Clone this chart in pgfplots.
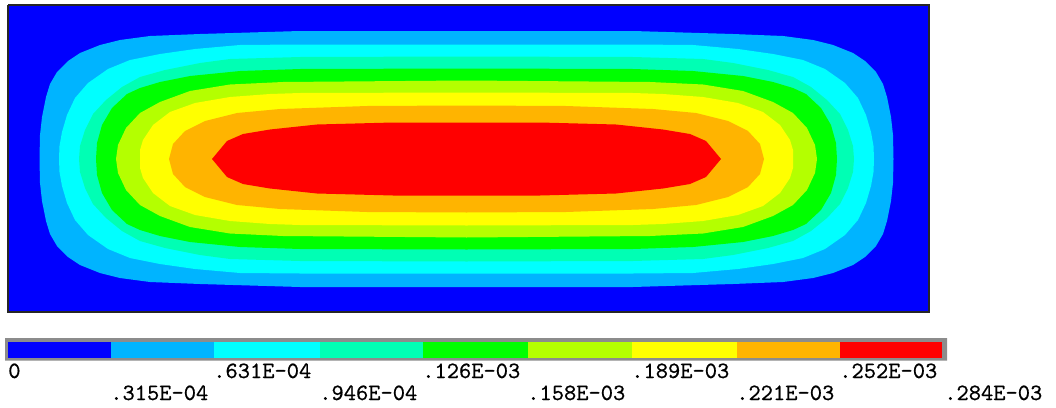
\documentclass[border=0pt]{standalone}
\usepackage{fontspec}
\usepackage{pgfplots}
\pgfplotsset{compat=1.18}
\newfontfamily\labfont{lmmono10-regular.otf}[FakeBold=0.6]
\definecolor{cB}{RGB}{0,0,255}
\definecolor{cLB}{RGB}{0,180,255}
\definecolor{cC}{RGB}{0,255,255}
\definecolor{cCG}{RGB}{0,255,180}
\definecolor{cG}{RGB}{0,255,0}
\definecolor{cYG}{RGB}{180,255,0}
\definecolor{cY}{RGB}{255,255,0}
\definecolor{cO}{RGB}{255,180,0}
\definecolor{cR}{RGB}{255,0,0}
\tikzset{lab/.style={anchor=base west, inner sep=0pt, font=\labfont\fontsize{17.5pt}{17.5pt}\selectfont}}
\begin{document}
\begin{tikzpicture}
\begin{axis}[scale only axis, width=792pt, height=305.25pt,
  xmin=0, xmax=1056, ymin=0, ymax=407, y dir=reverse,
  axis line style={draw=none}, xtick=\empty, ytick=\empty, clip=false]
% frame
\addplot[fill=cB, draw=black!85, line width=1.1pt] coordinates {(8,5) (929,5) (929,312) (8,312) (8,5)};
% light blue
\addplot[fill=cLB, draw=none] coordinates {(466.5,31) (300,31) (250,32.5) (200,34) (150,36) (120,40) (100,45) (80,53) (68,61) (57,72) (50,84) (46,97) (42,117) (40,135) (39.5,159)
(40,183) (42,201) (46,221) (50,234) (57,246) (68,257) (80,265) (100,273) (120,278) (150,282) (200,284) (250,285.5) (300,287) (466.5,287)
(633,287) (683,285.5) (733,284) (783,282) (813,278) (833,273) (853,265) (865,257) (876,246) (883,234) (887,221) (891,201) (893,183) (893.5,159)
(893,135) (891,117) (887,97) (883,84) (876,72) (865,61) (853,53) (833,45) (813,40) (783,36) (733,34) (683,32.5) (633,31) (466.5,31)};
% cyan
\addplot[fill=cC, draw=none] coordinates {(466.5,44.5) (300,44.5) (240,45) (195,49) (160,54) (130,60) (108,69) (88,83) (75,98) (67,115) (62,132) (59.5,146) (59,159)
(59.5,172) (62,186) (67,203) (75,220) (88,235) (108,249) (130,258) (160,264) (195,269) (240,273) (300,273.5) (466.5,273.5)
(633,273.5) (693,273) (738,269) (773,264) (803,258) (825,249) (845,235) (858,220) (866,203) (871,186) (873.5,172) (874,159)
(873.5,146) (871,132) (866,115) (858,98) (845,83) (825,69) (803,60) (773,54) (738,49) (693,45) (633,44.5) (466.5,44.5)};
% cyan-green
\addplot[fill=cCG, draw=none] coordinates {(466.5,56.5) (300,57) (230,59) (200,63) (165,70) (140,77) (122,87) (106,100) (93,114) (85,130) (80,146) (79,159)
(80,172) (85,188) (93,204) (106,218) (122,231) (140,241) (165,248) (200,255) (230,259) (300,261) (466.5,261.5)
(633,261) (703,259) (733,255) (768,248) (793,241) (811,231) (827,218) (840,204) (848,188) (853,172) (854,159)
(853,146) (848,130) (840,114) (827,100) (811,87) (793,77) (768,70) (733,63) (703,59) (633,57) (466.5,56.5)};
% green
\addplot[fill=cG, draw=none] coordinates {(466.5,68.5) (300,69) (240,71) (190,76) (160,82) (140,88) (127,94) (112,108) (102,125) (97,143) (96,159)
(97,175) (102,193) (112,210) (127,224) (140,230) (160,236) (190,242) (240,247) (300,249) (466.5,249.5)
(633,249) (693,247) (743,242) (773,236) (793,230) (806,224) (821,210) (831,193) (836,175) (837,159)
(836,143) (831,125) (821,108) (806,94) (793,88) (773,82) (743,76) (693,71) (633,69) (466.5,68.5)};
% yellow-green
\addplot[fill=cYG, draw=none] coordinates {(466.5,80.5) (283,82) (230,84.5) (190,91) (160,102) (140,113) (126,128) (118,145) (116,159)
(118,173) (126,190) (140,205) (160,216) (190,227) (230,233.5) (283,236) (466.5,237.5)
(650,236) (703,233.5) (743,227) (773,216) (793,205) (807,190) (815,173) (817,159)
(815,145) (807,128) (793,113) (773,102) (743,91) (703,84.5) (650,82) (466.5,80.5)};
% yellow
\addplot[fill=cY, draw=none] coordinates {(466.5,92.5) (300,93) (270,94) (230,97) (195,103) (170,112) (153,125) (143,140) (140,150) (140,159)
(140,168) (143,178) (153,193) (170,206) (195,215) (230,221) (270,224) (300,225) (466.5,225.5)
(633,225) (663,224) (703,221) (738,215) (763,206) (780,193) (790,178) (793,168) (793,159)
(793,150) (790,140) (780,125) (763,112) (738,103) (703,97) (663,94) (633,93) (466.5,92.5)};
% orange
\addplot[fill=cO, draw=none] coordinates {(466.5,105.5) (367,106) (280,109) (237,113) (205,121) (185,131) (173,144) (169,159)
(173,174) (185,187) (205,197) (237,205) (280,209) (367,212) (466.5,212.5)
(566,212) (653,209) (696,205) (728,197) (748,187) (760,174) (764,159)
(760,144) (748,131) (728,121) (696,113) (653,109) (566,106) (466.5,105.5)};
% red
\addplot[fill=cR, draw=none] coordinates {(466.5,122.5) (393,122.5) (317,124.5) (270,129.5) (243,134) (227,141) (212,159)
(227,177) (243,184) (270,188.5) (317,193.5) (393,195.5) (466.5,195.5)
(540,195.5) (616,193.5) (663,188.5) (690,184) (706,177) (721,159)
(706,141) (690,134) (663,129.5) (616,124.5) (540,122.5) (466.5,122.5)};
% colour bar
\addplot[fill=black!45, draw=none] coordinates {(5,338) (947,338) (947,360.5) (5,360.5) (5,338)};
\addplot[fill=cB, draw=none] coordinates {(8,341.5) (111,341.5) (111,357.5) (8,357.5)};
\addplot[fill=cLB, draw=none] coordinates {(111,341.5) (214,341.5) (214,357.5) (111,357.5)};
\addplot[fill=cC, draw=none] coordinates {(214,341.5) (320,341.5) (320,357.5) (214,357.5)};
\addplot[fill=cCG, draw=none] coordinates {(320,341.5) (423,341.5) (423,357.5) (320,357.5)};
\addplot[fill=cG, draw=none] coordinates {(423,341.5) (528,341.5) (528,357.5) (423,357.5)};
\addplot[fill=cYG, draw=none] coordinates {(528,341.5) (632,341.5) (632,357.5) (528,357.5)};
\addplot[fill=cY, draw=none] coordinates {(632,341.5) (737,341.5) (737,357.5) (632,357.5)};
\addplot[fill=cO, draw=none] coordinates {(737,341.5) (840,341.5) (840,357.5) (737,357.5)};
\addplot[fill=cR, draw=none] coordinates {(840,341.5) (942,341.5) (942,357.5) (840,357.5)};
% labels
\node[lab] at (axis cs:8,378) {0};
\node[lab] at (axis cs:213,378) {.631E-04};
\node[lab] at (axis cs:422,378) {.126E-03};
\node[lab] at (axis cs:631,378) {.189E-03};
\node[lab] at (axis cs:839,378) {.252E-03};
\node[lab] at (axis cs:110,400) {.315E-04};
\node[lab] at (axis cs:319,400) {.946E-04};
\node[lab] at (axis cs:527,400) {.158E-03};
\node[lab] at (axis cs:736,400) {.221E-03};
\node[lab] at (axis cs:944,400) {.284E-03};
\end{axis}
\end{tikzpicture}
\end{document}
